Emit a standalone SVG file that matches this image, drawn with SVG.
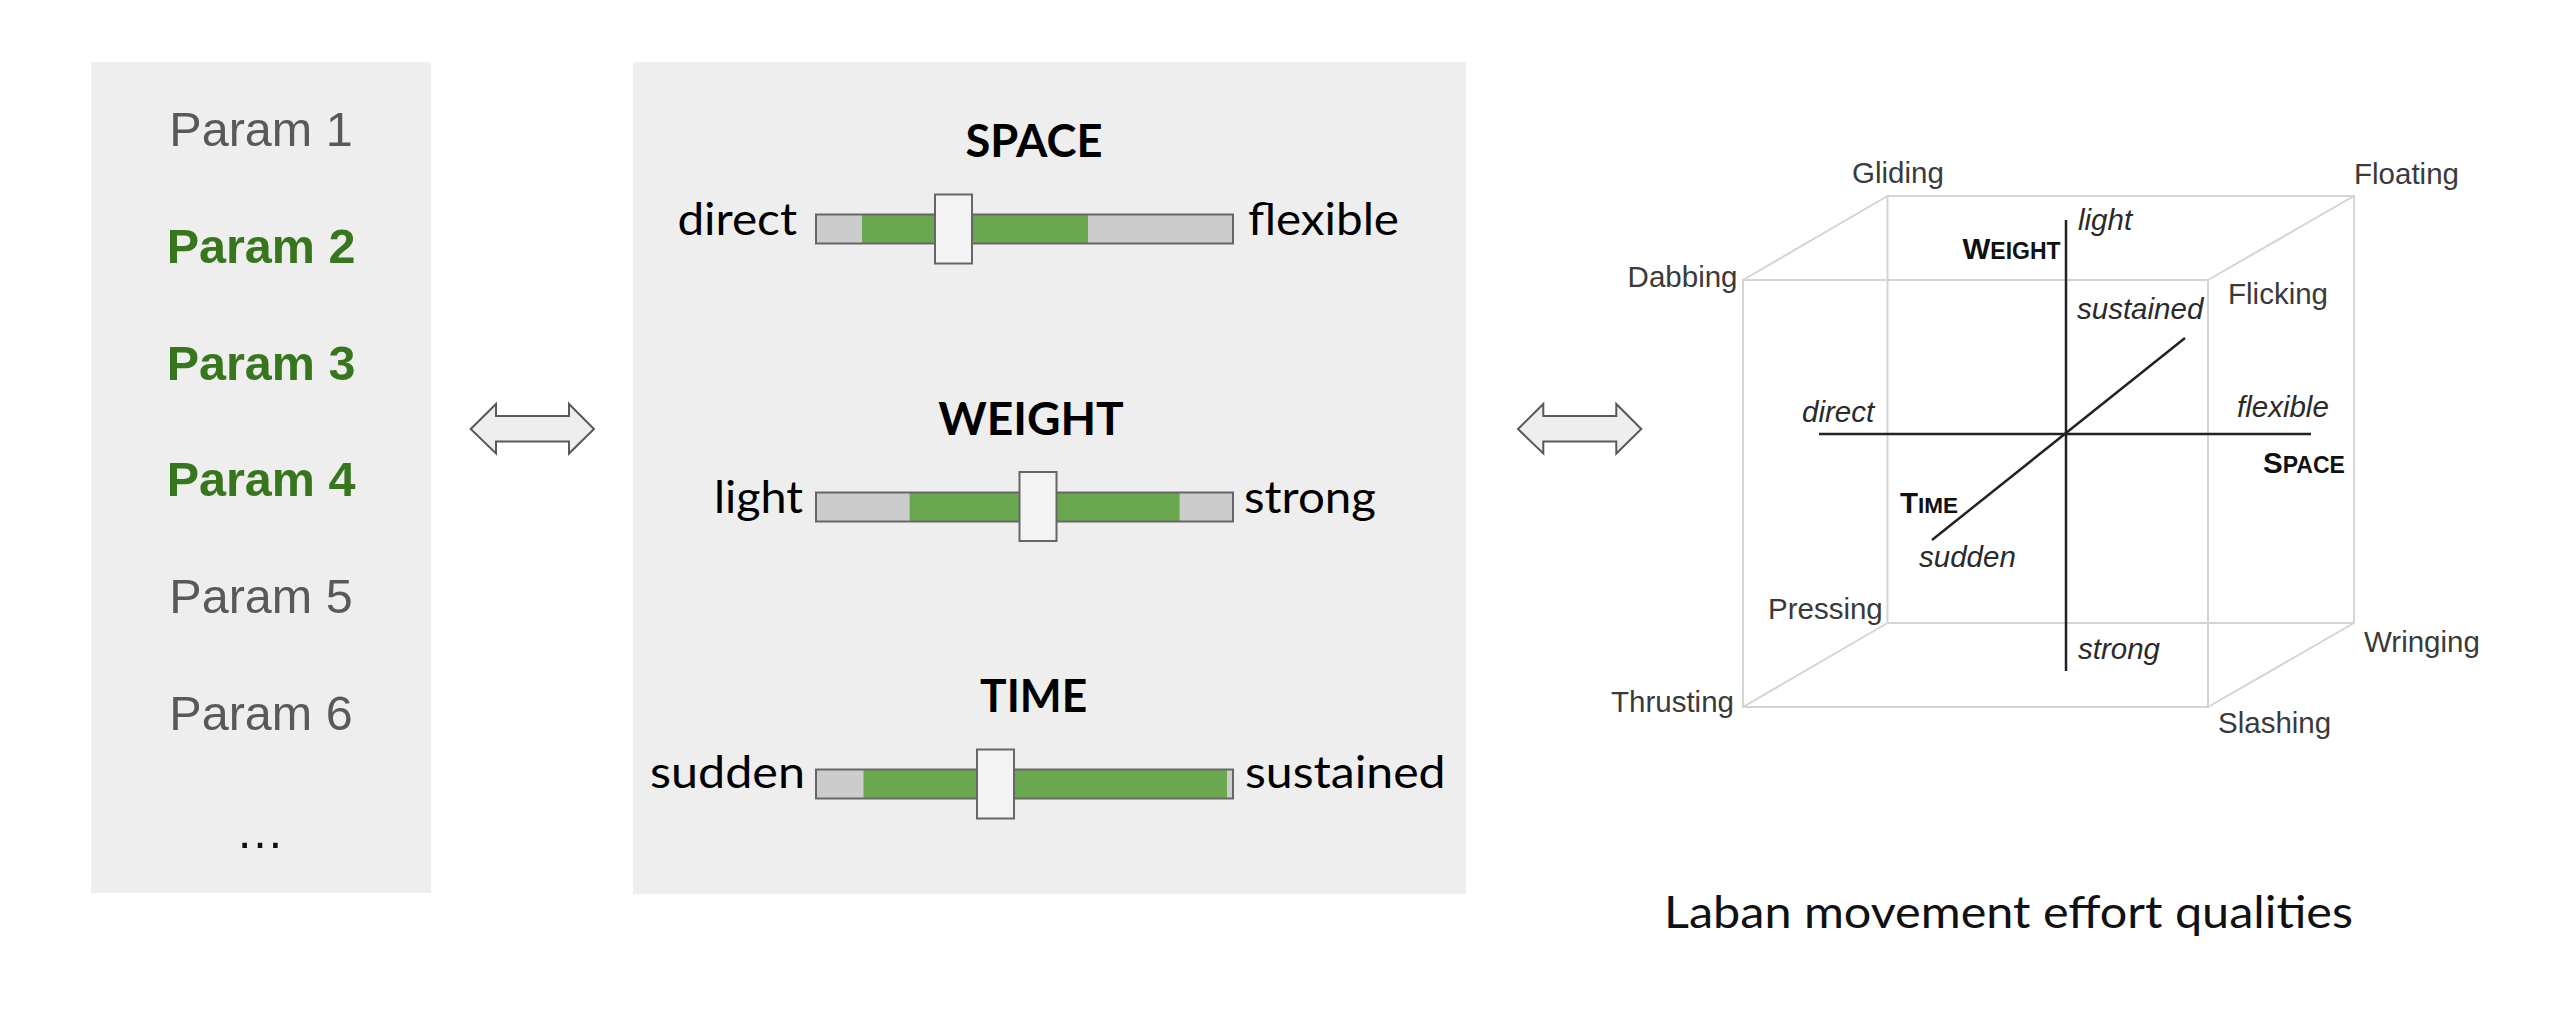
<svg xmlns="http://www.w3.org/2000/svg" width="2560" height="1015" viewBox="0 0 2560 1015">
<style>
.panel{fill:#eeeeee}
.param{font-family:"Liberation Sans",Arial,sans-serif;font-size:48.5px;text-anchor:middle}
.pg{fill:#595959}
.pb{fill:#38761d;font-weight:bold}
.head{font-family:Lato,"Open Sans",sans-serif;font-weight:bold;font-size:45px;fill:#000;text-anchor:middle}
.lab{font-family:Lato,"Open Sans",sans-serif;font-size:45px;fill:#000}
.track{fill:#cccccc}
.outline{fill:none;stroke:#666666;stroke-width:2}
.green{fill:#6aa84f}
.thumb{fill:#f3f3f3;stroke:#666666;stroke-width:2}
.arrow{fill:#eeeeee;stroke:#595959;stroke-width:2;stroke-linejoin:miter}
.edge{fill:none;stroke:#d4d4d4;stroke-width:2}
.axis{fill:none;stroke:#222222;stroke-width:2.5}
.cl{font-family:"Liberation Sans",Arial,sans-serif;font-size:29.5px;fill:#3a3a3a}
.it{font-family:"Liberation Sans",Arial,sans-serif;font-size:29.5px;font-style:italic;fill:#2a2a2a}
.sc{font-family:"Liberation Sans",Arial,sans-serif;font-size:29.5px;font-weight:bold;fill:#111}
.cap{font-family:Lato,"Open Sans",sans-serif;font-size:45px;fill:#111}
</style>
<rect width="2560" height="1015" fill="#ffffff"/>

<g id="params">
<rect class="panel" x="91" y="62" width="340" height="831"/>
<text class="param pg" x="261" y="146">Param 1</text>
<text class="param pb" x="261" y="263">Param 2</text>
<text class="param pb" x="261" y="379.5">Param 3</text>
<text class="param pb" x="261" y="496">Param 4</text>
<text class="param pg" x="261" y="613">Param 5</text>
<text class="param pg" x="261" y="730">Param 6</text>
<text class="param" x="260" y="848" fill="#111">…</text>
</g>

<g id="sliders">
<rect class="panel" x="633" y="62" width="833" height="832"/>
<g id="slider-space">
<text class="head" x="1034" y="157" textLength="137" lengthAdjust="spacingAndGlyphs">SPACE</text>
<text class="lab" x="797" y="235" text-anchor="end" textLength="119.6" lengthAdjust="spacingAndGlyphs">direct</text>
<text class="lab" x="1248" y="235" textLength="151" lengthAdjust="spacingAndGlyphs">flexible</text>
<rect class="track" x="816" y="214.5" width="417" height="29"/>
<rect class="green" x="862" y="214.5" width="226" height="29"/>
<rect class="outline" x="816" y="214.5" width="417" height="29"/>
<rect class="thumb" x="935" y="194.5" width="37" height="69"/>
</g>
<g id="slider-weight">
<text class="head" x="1031" y="435" textLength="185.6" lengthAdjust="spacingAndGlyphs">WEIGHT</text>
<text class="lab" x="803" y="513" text-anchor="end" textLength="89" lengthAdjust="spacingAndGlyphs">light</text>
<text class="lab" x="1244" y="513" textLength="132" lengthAdjust="spacingAndGlyphs">strong</text>
<rect class="track" x="816" y="492.5" width="417" height="29"/>
<rect class="green" x="909.6" y="492.5" width="270" height="29"/>
<rect class="outline" x="816" y="492.5" width="417" height="29"/>
<rect class="thumb" x="1019.5" y="472" width="37" height="69"/>
</g>
<g id="slider-time">
<text class="head" x="1033.6" y="712" textLength="107" lengthAdjust="spacingAndGlyphs">TIME</text>
<text class="lab" x="805" y="788" text-anchor="end" textLength="155" lengthAdjust="spacingAndGlyphs">sudden</text>
<text class="lab" x="1245" y="788" textLength="200.6" lengthAdjust="spacingAndGlyphs">sustained</text>
<rect class="track" x="816" y="769.5" width="417" height="29"/>
<rect class="green" x="863.5" y="769.5" width="363.5" height="29"/>
<rect class="outline" x="816" y="769.5" width="417" height="29"/>
<rect class="thumb" x="977" y="749.5" width="37" height="69"/>
</g>
</g>

<g id="connectors">
<polygon id="arrow-1" class="arrow" points="470.7,429 496,404 496,416 569,416 569,404 594,429 569,453.5 569,441.5 496,441.5 496,453.5"/>
<polygon id="arrow-2" class="arrow" points="1518,429 1543.3,404 1543.3,416 1616.3,416 1616.3,404 1641.3,429 1616.3,453.5 1616.3,441.5 1543.3,441.5 1543.3,453.5"/>
</g>

<g id="laban-cube">
<rect class="edge" x="1887.5" y="196" width="466.5" height="427"/>
<rect class="edge" x="1743" y="280" width="465" height="427"/>
<line class="edge" x1="1743" y1="280" x2="1887.5" y2="196"/>
<line class="edge" x1="2208" y1="280" x2="2354" y2="196"/>
<line class="edge" x1="2208" y1="707" x2="2354" y2="623"/>
<line class="edge" x1="1743" y1="707" x2="1887.5" y2="623"/>
<line class="axis" x1="2066" y1="220" x2="2066" y2="671"/>
<line class="axis" x1="1819" y1="434" x2="2311" y2="434"/>
<line class="axis" x1="1932" y1="540" x2="2185" y2="338"/>
<text class="cl" x="1852" y="183">Gliding</text>
<text class="cl" x="2354" y="184">Floating</text>
<text class="cl" x="1737.5" y="287" text-anchor="end">Dabbing</text>
<text class="cl" x="2228" y="303.5">Flicking</text>
<text class="cl" x="1768" y="619">Pressing</text>
<text class="cl" x="1611" y="712">Thrusting</text>
<text class="cl" x="2364" y="652">Wringing</text>
<text class="cl" x="2218" y="733">Slashing</text>
<text class="it" x="2078" y="230">light</text>
<text class="it" x="2077" y="318.5">sustained</text>
<text class="it" x="1802" y="422">direct</text>
<text class="it" x="2237" y="417">flexible</text>
<text class="it" x="1919" y="567">sudden</text>
<text class="it" x="2078" y="659">strong</text>
<text class="sc" x="1962.5" y="258.5">W<tspan font-size="23">EIGHT</tspan></text>
<text class="sc" x="1900" y="513">T<tspan font-size="22.5">IME</tspan></text>
<text class="sc" x="2263" y="473">S<tspan font-size="23">PACE</tspan></text>
<text class="cap" x="1664" y="928" textLength="689" lengthAdjust="spacingAndGlyphs">Laban movement effort qualities</text>
</g>
</svg>
